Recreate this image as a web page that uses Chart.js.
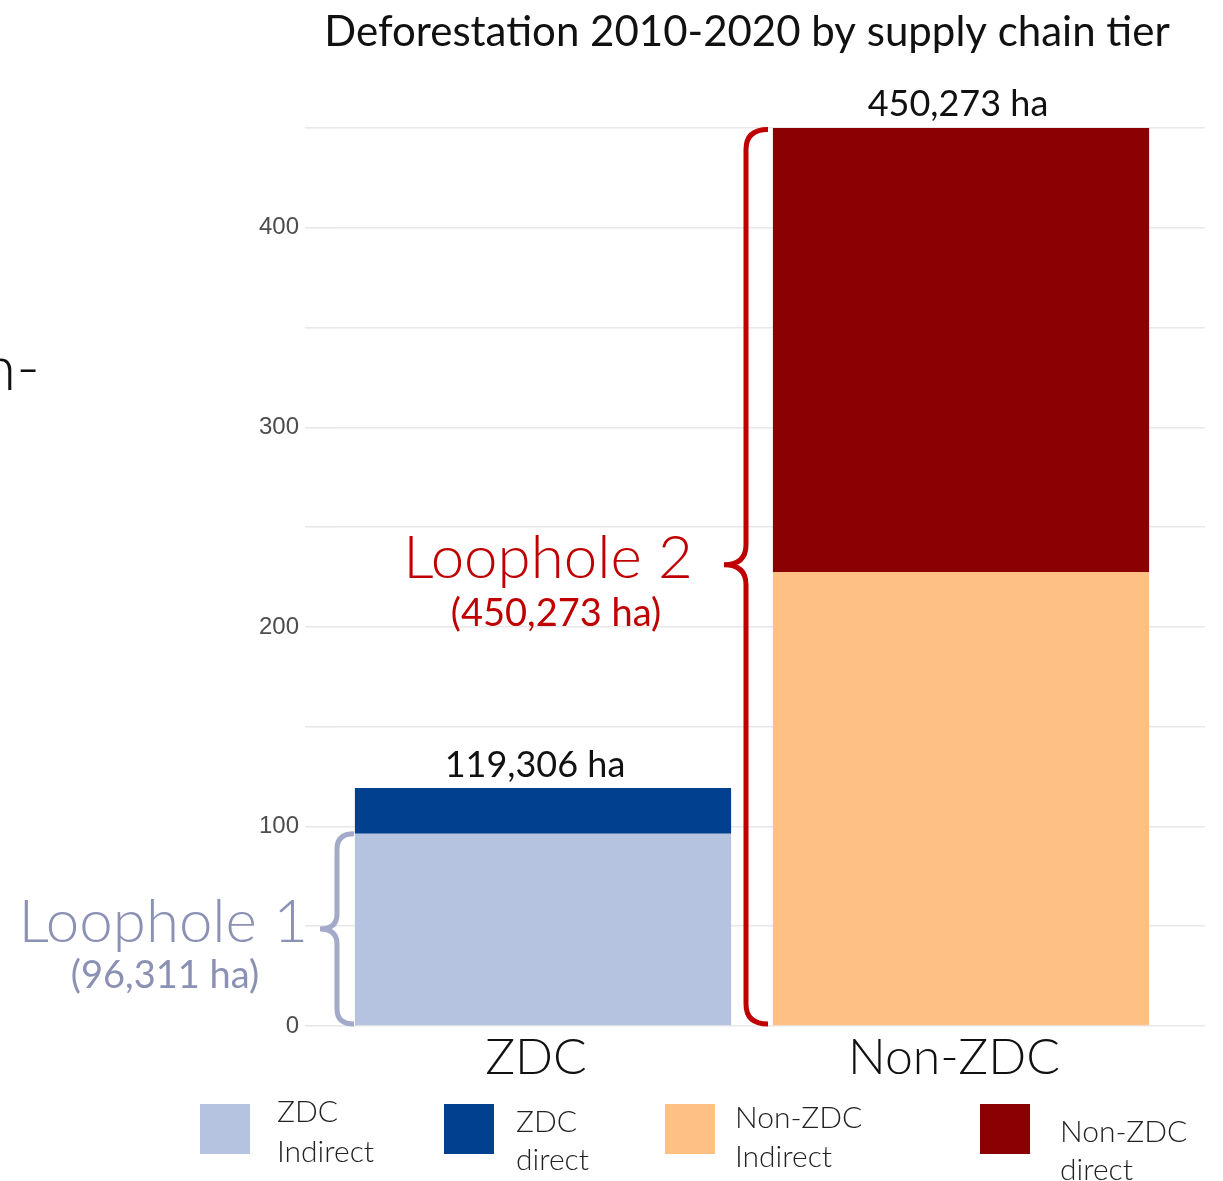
<!DOCTYPE html>
<html>
<head>
<meta charset="utf-8">
<script src="https://cdn.jsdelivr.net/npm/chart.js@4/dist/chart.umd.min.js"></script>
<style>
  html, body { margin: 0; padding: 0; background: #fff; }
  #wrap { position: relative; width: 1223px; height: 1181px; }
</style>
</head>
<body>
<div id="wrap"><canvas id="chart" width="1223" height="1181"></canvas></div>
<script>
// values in thousand hectares
const categories = ['ZDC', 'Non-ZDC'];
const zdcIndirect = [96.311, null];
const zdcDirect = [22.995, null];
const nonZdcIndirect = [null, 227.5];
const nonZdcDirect = [null, 222.773];
const totalLabels = ['119,306 ha', '450,273 ha'];
const seriesNames = [['ZDC', 'Indirect'], ['ZDC', 'direct'], ['Non-ZDC', 'Indirect'], ['Non-ZDC', 'direct']];
const yTicks = [0, 100, 200, 300, 400];

const colors = ['#b5c3e0', '#00408f', '#ffc183', '#8b0000'];
const gridColor = '#e8e8e8';
const FONT = 'Lato, "Open Sans", sans-serif';

// braces, annotation text, title, bar totals and legend
const decorPlugin = {
  id: 'decor',
  afterDraw(chart) {
    const ctx = chart.ctx;
    const y = chart.scales.y;
    const metaA = chart.getDatasetMeta(1);
    const metaB = chart.getDatasetMeta(3);

    ctx.save();
    // title
    ctx.fillStyle = '#111';
    ctx.font = '400 42px ' + FONT;
    ctx.textAlign = 'center';
    ctx.textBaseline = 'alphabetic';
    ctx.fillText('Deforestation 2010-2020 by supply chain tier', 747, 46, 850);

    // cropped word at the left edge
    ctx.textAlign = 'right';
    ctx.font = '300 64px ' + FONT;
    ctx.fillText('n-', 40, 390);

    // totals above the bars
    ctx.textAlign = 'center';
    ctx.font = '400 36px ' + FONT;
    const tops = [zdcIndirect[0] + zdcDirect[0], nonZdcIndirect[1] + nonZdcDirect[1]];
    const centers = [metaA.data[0].x - 8, metaB.data[1].x - 3];
    tops.forEach((t, i) => {
      ctx.fillText(totalLabels[i], centers[i], y.getPixelForValue(t) - 11);
    });

    // curly braces
    function brace(x, top, bottom, mid, d, h, r, color, lw) {
      ctx.beginPath();
      ctx.strokeStyle = color;
      ctx.lineWidth = lw;
      ctx.lineCap = 'butt';
      ctx.moveTo(x + h, top);
      ctx.quadraticCurveTo(x, top, x, top + r);
      ctx.lineTo(x, mid - r);
      ctx.quadraticCurveTo(x, mid, x - d, mid);
      ctx.quadraticCurveTo(x, mid, x, mid + r);
      ctx.lineTo(x, bottom - r);
      ctx.quadraticCurveTo(x, bottom, x + h, bottom);
      ctx.stroke();
    }
    const y0 = y.getPixelForValue(0) - 2;
    const redTop = y.getPixelForValue(tops[1]) + 2;
    brace(746, redTop, y0, (redTop + y0) / 2 - 12, 22, 22, 20, '#c00000', 5);
    const grayTop = y.getPixelForValue(zdcIndirect[0]);
    brace(337, grayTop, y0, (grayTop + y0) / 2, 17, 17, 15, '#a3a9c8', 5);

    // annotation texts
    ctx.fillStyle = '#c00000';
    ctx.textAlign = 'center';
    ctx.font = '300 60px ' + FONT;
    ctx.fillText('Loophole 2', 548, 578);
    ctx.font = '400 38px ' + FONT;
    ctx.fillText('(450,273 ha)', 556, 626);

    ctx.fillStyle = '#8b91b4';
    ctx.textAlign = 'right';
    ctx.font = '300 60px ' + FONT;
    ctx.fillText('Loophole 1', 308, 942);
    ctx.textAlign = 'center';
    ctx.font = '400 38px ' + FONT;
    ctx.fillText('(96,311 ha)', 165, 988);

    // legend
    const items = [
      { sx: 200, tx: 277, b1: 1122, b2: 1162 },
      { sx: 444, tx: 516, b1: 1132, b2: 1170 },
      { sx: 665, tx: 735, b1: 1128, b2: 1167 },
      { sx: 980, tx: 1060, b1: 1142, b2: 1180 }
    ];
    ctx.textAlign = 'left';
    ctx.font = '300 30px ' + FONT;
    items.forEach((it, i) => {
      ctx.fillStyle = chart.data.datasets[i].backgroundColor;
      ctx.fillRect(it.sx, 1104, 50, 50);
      ctx.fillStyle = '#222';
      ctx.fillText(seriesNames[i][0], it.tx, it.b1);
      ctx.fillText(seriesNames[i][1], it.tx, it.b2);
    });
    ctx.restore();
  }
};

const datasets = [zdcIndirect, zdcDirect, nonZdcIndirect, nonZdcDirect].map((d, i) => ({
  label: seriesNames[i].join(' '),
  data: d,
  backgroundColor: colors[i],
  borderWidth: 0,
  barPercentage: 0.9,
  categoryPercentage: 1.0,
  skipNull: true
}));

new Chart(document.getElementById('chart'), {
  type: 'bar',
  data: { labels: categories, datasets: datasets },
  options: {
    responsive: false,
    animation: false,
    events: [],
    layout: { padding: { top: 128, left: 0, right: 0, bottom: 0 } },
    plugins: { legend: { display: false }, title: { display: false }, tooltip: { enabled: false } },
    scales: {
      x: {
        stacked: true,
        grid: { display: false },
        border: { display: false },
        ticks: { color: '#111', font: { family: FONT, size: 50, weight: '300' }, padding: -6, labelOffset: -7 },
        afterFit: (s) => { s.height = 155; }
      },
      y: {
        stacked: true,
        min: 0,
        max: 450,
        border: { display: false },
        grid: { color: gridColor, tickColor: gridColor, lineWidth: 1.6, drawTicks: true, tickLength: 29 },
        ticks: {
          stepSize: 50,
          padding: 6,
          color: '#4d4d4d',
          font: { family: '"Liberation Sans", Arial, sans-serif', size: 24 },
          callback: (v) => (yTicks.includes(v) ? String(v) : '')
        },
        afterFit: (s) => { s.width = 334; }
      },
      y2: {
        position: 'right',
        min: 0,
        max: 450,
        border: { display: false },
        grid: { color: 'rgba(0,0,0,0)', tickColor: gridColor, lineWidth: 1.6, drawTicks: true, tickLength: 35 },
        ticks: { stepSize: 50, display: false },
        afterFit: (s) => { s.width = 53; }
      }
    }
  },
  plugins: [decorPlugin]
});
</script>
</body>
</html>
